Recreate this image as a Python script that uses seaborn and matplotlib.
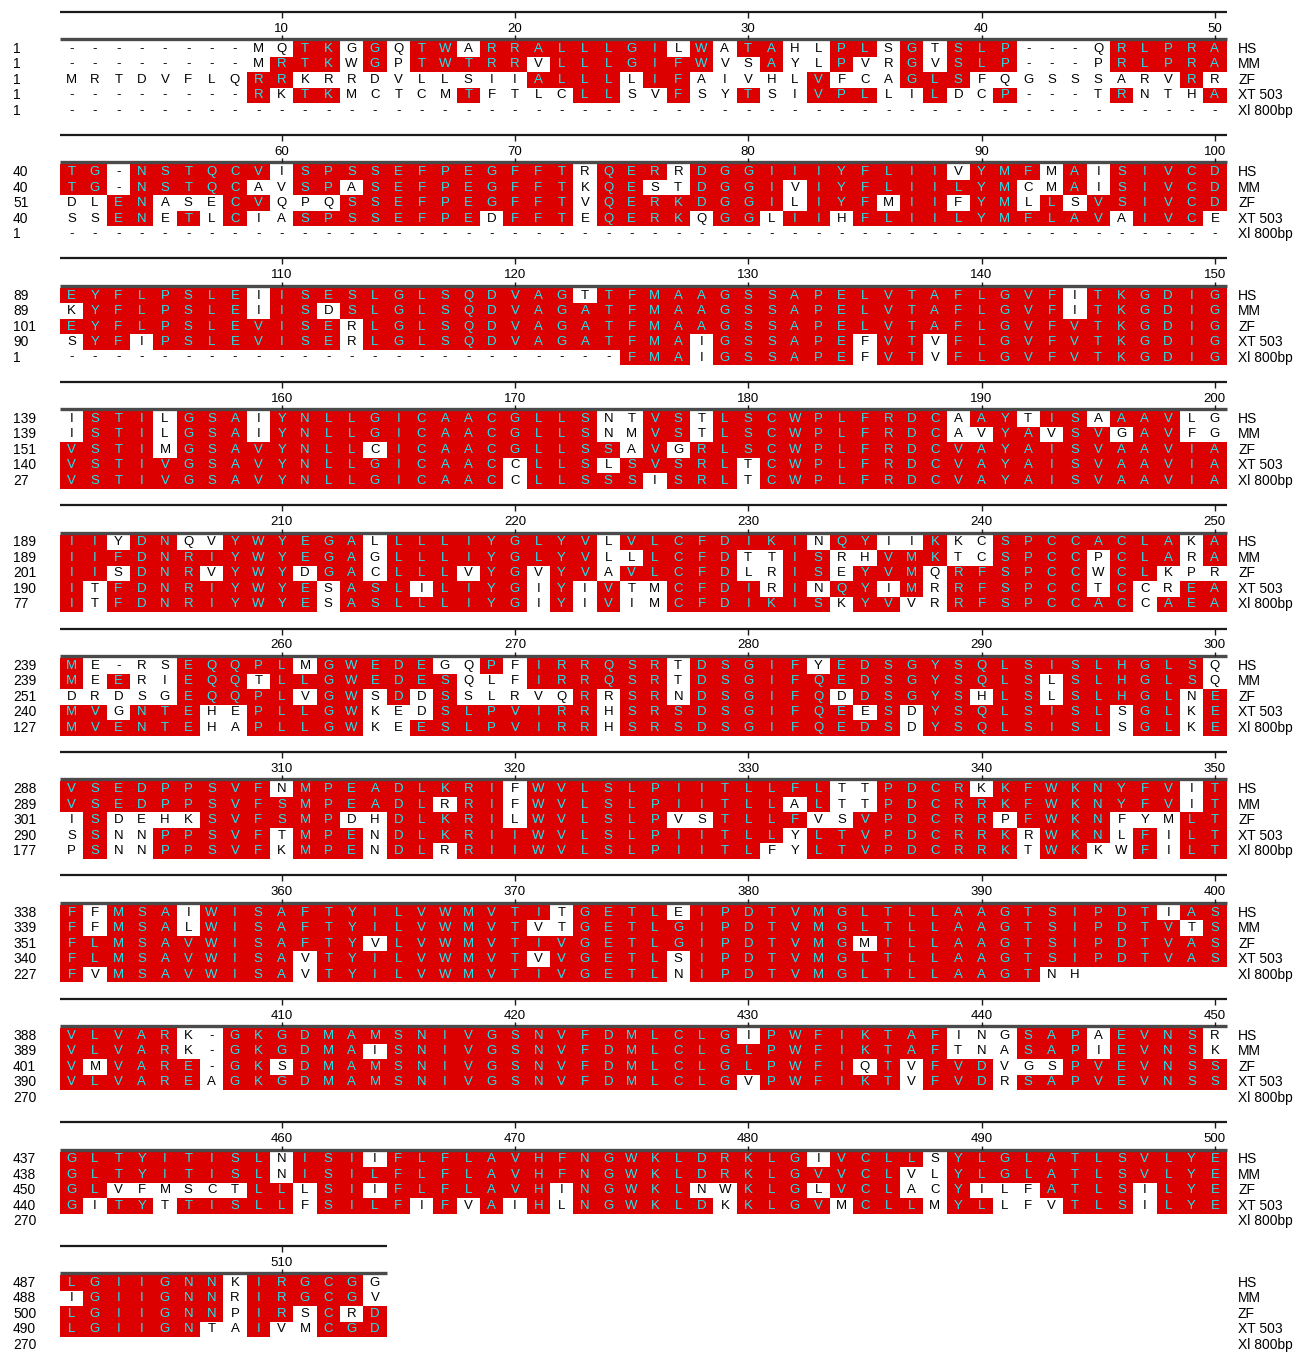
import numpy as np
import matplotlib
matplotlib.use("Agg")
import matplotlib.pyplot as plt
import seaborn as sns
from matplotlib.colors import ListedColormap

# Protein alignment, 50 columns per block.
# Upper case = residue identical to the column consensus (shaded),
# lower case = non-consensus residue, '-' = gap, ' ' = sequence absent.
SPECIES = ["HS", "MM", "ZF", "XT 503", "Xl 800bp"]

HS = [
    "--------mqTKgGqTWaRRALLLGIlWaTAhlPLsGtSLP---qRLPRA",
    "TG-NSTQCViSPSSEFPEGFFTrQERrDGGIIIYFLIIvYMFmAiSIVCD",
    "EYFLPSLEiISESLGLSQDVAGtTFMAAGSSAPELVTAFLGVFiTKGDIG",
    "iSTIlGSAiYNLLGICAACGLLSntVStLSCWPLFRDCaAYtISaAAVlg",
    "IIyDNqvYWYEGAlLLLIYGLYVlVLCFDIKInQYiiKkcSPCCACLAkA",
    "Me-rsEQQPLmGWEDEgqPfIRRQSRtDSGIFyEDSGYSQLSISLHGLSq",
    "VSEDPPSVFnMPEADLKRIfWVLSLPIITLLFLttPDCRkKFWKNYFViT",
    "FfMSAiWISAFTYILVWMVTItGETLeIPDTVMGLTLLAAGTSIPDTiAS",
    "VLVARk-GKGDMAMSNIVGSNVFDMLCLGiPWFIKTAFingSAPaEVNSr",
    "GLTYITISLnISIiFLFLAVHFNGWKLDRKLGiVCLLsYLGLATLSVLYE",
    "LGIIGNNkIRGCGg",
]
MM = [
    "--------mRTKwGpTWTRRvLLLGIFWvsAylPvrGvSLP---pRLPRA",
    "TG-NSTQCavSPaSEFPEGFFTkQEstDGGIvIYFLIILYMcmAiSIVCD",
    "kYFLPSLEiISdSLGLSQDVAGATFMAAGSSAPELVTAFLGVFiTKGDIG",
    "iSTIlGSAiYNLLGICAACGLLSnmVStLSCWPLFRDCavYAvSVgAVfg",
    "IIFDNRIYWYEGAgLLLIYGLYVllLCFDttISrhVMKtcSPCCpCLArA",
    "MeEriEQQtLLGWEDESqlfIRRQSRtDSGIFQEDSGYSQLSlSLHGLSq",
    "VSEDPPSVFSMPEADLrRIfWVLSLPIITLLaLttPDCRRKFWKNYFViT",
    "FfMSAlWISAFTYILVWMVTvtGETLGIPDTVMGLTLLAAGTSIPDTVtS",
    "VLVARk-GKGDMAiSNIVGSNVFDMLCLGLPWFIKTAFtnaSAPiEVNSk",
    "GLTYITISLnISILFLFLAVHFNGWKLDRKLGVVCLvlYLGLATLSVLYE",
    "iGIIGNNrIRGCGv",
]
ZF = [
    "mrtdvflqRRkrrdvllsiiALLLlIFaivhlVfcaGLSfqgsssarvRr",
    "dlENaseCVqpqSSEFPEGFFTvQERKDGGIlIYFmIIfYMlLsVSIVCD",
    "EYFLPSLEVISErLGLSQDVAGATFMAAGSSAPELVTAFLGVFVTKGDIG",
    "VSTImGSAVYNLLcICAACGLLSSaVgRLSCWPLFRDCVAYAISVAAVIA",
    "IIsDNRvYWYdGAcLLLvYGvYVaVLCFDlrISeYVMqRFSPCCwCLkpr",
    "drdsgEQQPLvGWsDdSslrvqRrSRnDSGIFQdDSGYShLSlSLHGLnE",
    "iSdehkSVFSMPdhDLKRIlWVLSLPvsTLLFvsVPDCRRpFWKNfymLT",
    "FLMSAVWISAFTYvLVWMVTIVGETLGIPDTVMGmTLLAAGTSIPDTVAS",
    "VmVARE-GKsDMAMSNIVGSNVFDMLCLGLPWFIqTvFVDvgsPVEVNSS",
    "GLvfmsctLLlSIiFLFLAVHiNGWKLnwKLGlVCLacYilfATLSiLYE",
    "LGIIGNNpIRsCrD",
]
XT = [
    "--------RkTKmctcmTftlcLLsvFsyTsiVPLliLdcP---tRnthA",
    "ssENeTlCiaSPSSEFPEdFFTeQERKqGGlIIhFLIILYMFLAVaIVCe",
    "sYFiPSLEVISErLGLSQDVAGATFMAiGSSAPEfVTvFLGVFVTKGDIG",
    "VSTIVGSAVYNLLGICAACcLLSlSVSRLtCWPLFRDCVAYAISVAAVIA",
    "ItFDNRIYWYEsASLiLIYGiYiVtmCFDIrInQYiMrRFSPCCtCcrEA",
    "MVgNTEhePLLGWkedSLPVIRRhSRSDSGIFQEeSdYSQLSISLsGLkE",
    "sSnnPPSVFtMPEnDLKRIIWVLSLPIITLLyLTVPDCRRKrWKNlFiLT",
    "FLMSAVWISAvTYILVWMVTvVGETLsIPDTVMGLTLLAAGTSIPDTVAS",
    "VLVAREaGKGDMAMSNIVGSNVFDMLCLGvPWFIKTvFVDrSAPVEVNSS",
    "GiTYtTISLLfSILFiFvAiHlNGWKLDkKLGVmCLLmYLlfvTLSiLYE",
    "LGIIGNtaIvmCGD",
]
XL = [
    "--------------------------------------------------",
    "--------------------------------------------------",
    "------------------------FMAiGSSAPEfVTvFLGVFVTKGDIG",
    "VSTIVGSAVYNLLGICAACcLLSSSiSRLtCWPLFRDCVAYAISVAAVIA",
    "ItFDNRIYWYEsASLLLIYGiYiVimCFDIKISkYVvrRFSPCCACcAEA",
    "MVENTEhaPLLGWkeESLPVIRRhSRSDSGIFQEDSdYSQLSISLsGLkE",
    "pSnnPPSVFkMPEnDLrRIIWVLSLPIITLfyLTVPDCRRKtWKkwFiLT",
    "FvMSAVWISAvTYILVWMVTIVGETLnIPDTVMGLTLLAAGTnh      ",
    "                                                  ",
    "                                                  ",
    "              ",
]

# ---- layout (pixels) ----
W, H = 1309, 1352
LEFT = 60.0
COL_W = 23.33
ROW_H = 15.5
BLOCK_STEP = 123.4
RULE_TOP = 11.5
LABEL_Y = 28.5
RULE_BOT = 39.0
ROWS_TOP = 41.0
NUM_X = 13.0
NAME_X = 1238.0

RED = "#DC0000"
CYAN = "#1EE6F0"
FONT = ["Liberation Sans", "DejaVu Sans"]
FS = 9.5
FS_SIDE = 10

sns.set_style("white")
plt.rcParams["font.family"] = FONT

fig = plt.figure(figsize=(W / 100, H / 100), dpi=100)

seqs = [HS, MM, ZF, XT, XL]
totals = [sum(ch.isalpha() for blk in s for ch in blk) for s in seqs]
counts = [0] * len(seqs)
cmap = ListedColormap(["white", RED])

for b in range(len(HS)):
    rows = [s[b] for s in seqs]
    n = len(rows[0])
    shade = np.array([[1.0 if ch.isupper() else 0.0 for ch in r] for r in rows])
    letters = np.array([[ch.upper() if ch != " " else "" for ch in r] for r in rows])

    y0 = b * BLOCK_STEP
    top_px = y0 + RULE_TOP - 3
    bot_px = y0 + ROWS_TOP + len(rows) * ROW_H
    ax = fig.add_axes([LEFT / W, 1 - bot_px / H, n * COL_W / W, (bot_px - top_px) / H])

    sns.heatmap(shade, ax=ax, cmap=cmap, vmin=0, vmax=1, cbar=False,
                annot=letters, fmt="", xticklabels=False, yticklabels=False,
                annot_kws=dict(fontsize=FS, family=FONT))
    for t in ax.texts:
        x, y = t.get_position()
        t.set_color(CYAN if shade[int(y), int(x)] else "black")

    def ypx(p):
        return (p - (y0 + ROWS_TOP)) / ROW_H

    ax.set_xlim(0, n)
    ax.set_ylim(len(rows), ypx(top_px))

    # ruler
    ax.hlines(ypx(y0 + RULE_TOP), 0, n, color="#1a1a1a", lw=1.6, clip_on=False)
    ax.hlines(ypx(y0 + RULE_BOT), 0, n, color="#4a4a4a", lw=2.4, clip_on=False)
    for c in range(10, n + 1, 10):
        xc = c - 0.5
        ax.vlines(xc, ypx(y0 + RULE_TOP), ypx(y0 + RULE_TOP + 6), color="#1a1a1a", lw=1.0, clip_on=False)
        ax.vlines(xc, ypx(y0 + RULE_BOT - 4), ypx(y0 + RULE_BOT), color="#1a1a1a", lw=1.0, clip_on=False)
        ax.text(xc, ypx(y0 + LABEL_Y), str(b * 50 + c), ha="center", va="center",
                fontsize=FS, color="black", clip_on=False)

    # residue numbers and species names
    for i, r in enumerate(rows):
        start = min(counts[i] + 1, totals[i])
        ax.text((NUM_X - LEFT) / COL_W, i + 0.5, str(start), ha="left", va="center",
                fontsize=FS_SIDE, color="black", clip_on=False)
        ax.text((NAME_X - LEFT) / COL_W, i + 0.5, SPECIES[i], ha="left", va="center",
                fontsize=FS_SIDE, color="black", clip_on=False)
        counts[i] += sum(ch.isalpha() for ch in r)

fig.savefig("out.png", dpi=100)
